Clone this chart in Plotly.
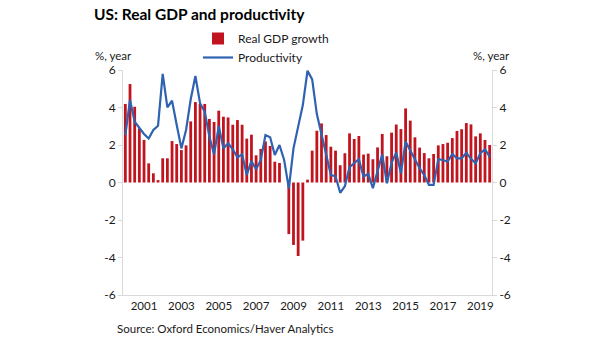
import plotly.graph_objects as go

quarters = [f"{y}Q{q}" for y in range(2000, 2020) for q in range(1, 5)][:79]

gdp_growth = [4.19, 5.25, 4.04, 2.89, 2.27, 1.02, 0.49, 0.13, 1.29, 1.29,
              2.21, 2.05, 1.73, 1.98, 3.26, 4.29, 4.19, 4.19, 3.39, 3.23,
              3.83, 3.51, 3.47, 3.08, 3.33, 3.08, 2.34, 2.55, 1.45, 1.79,
              2.19, 1.95, 1.11, 1.04, 0.0, -2.75, -3.33, -3.92, -3.10, 0.15,
              1.70, 2.76, 3.15, 2.53, 1.91, 1.70, 0.92, 1.56, 2.62, 2.32,
              2.48, 1.49, 1.54, 1.24, 1.87, 2.59, 1.40, 2.66, 3.09, 2.85,
              3.95, 3.30, 2.41, 1.86, 1.57, 1.29, 1.52, 1.98, 2.05, 2.12,
              2.37, 2.75, 2.84, 3.17, 3.10, 2.46, 2.62, 2.27, 2.00]

productivity = [2.53, 4.40, 3.24, 2.89, 2.59, 2.35, 2.80, 3.03, 5.79, 4.01,
                4.36, 3.07, 1.82, 2.80, 4.44, 5.68, 4.22, 3.78, 2.44, 1.50,
                3.01, 1.82, 2.09, 1.77, 1.34, 1.50, 0.40, 1.15, 0.70, 1.20,
                2.53, 2.41, 1.47, 2.00, 1.20, -0.31, 1.82, 2.98, 4.13, 5.96,
                5.50, 3.65, 2.50, 1.50, 0.40, 0.33, -0.55, -0.20, 0.82, 1.02,
                1.24, 0.31, 0.47, -0.30, 0.55, 1.50, -0.04, 1.05, 1.60, 0.49,
                2.18, 1.73, 1.20, 0.76, 0.40, -0.13, -0.13, 1.24, 1.20, 1.11,
                1.52, 1.29, 1.29, 1.59, 1.26, 1.02, 1.56, 1.77, 1.38]

year_ticks = [f"{y}Q1" for y in range(2001, 2020, 2)]
year_labels = [str(y) for y in range(2001, 2020, 2)]
y_ticks = [-6, -4, -2, 0, 2, 4, 6]
y_labels = ["-6", "-4", "-2", "0", "2", "4", "6"]

# plot area in pixels
W, H = 605, 341
L, R, T, B = 123, 492, 70, 295
def px(x):
    return (x - L) / (R - L)
def py(y):
    return (B - y) / (B - T)

FONT = "Lato"
RED = "#C0141E"
BLUE = "#2F62B0"

fig = go.Figure()
fig.add_trace(go.Bar(x=quarters, y=gdp_growth, name="Real GDP growth",
                     marker=dict(color=RED, line=dict(width=0)), yaxis="y"))
fig.add_trace(go.Scatter(x=quarters, y=productivity, name="Productivity",
                         mode="lines", line=dict(color=BLUE, width=2.2), yaxis="y"))
# invisible trace to activate right axis
fig.add_trace(go.Scatter(x=[quarters[0]], y=[0], yaxis="y2", mode="markers",
                         marker=dict(opacity=0), showlegend=False, hoverinfo="skip"))

axis_common = dict(range=[-6, 6], tickvals=y_ticks, ticktext=y_labels,
                   showgrid=False, zeroline=False,
                   showline=True, linecolor="#D9D9D9", linewidth=1,
                   ticks="outside", ticklen=4, tickcolor="#D9D9D9",
                   tickfont=dict(family=FONT, size=12, color="#1a1a1a"))

fig.update_layout(
    width=W, height=H,
    margin=dict(l=L, r=W - R, t=T, b=H - B),
    paper_bgcolor="white", plot_bgcolor="white",
    bargap=0.4,
    showlegend=True,
    legend=dict(x=px(198), y=py(24), xanchor="left", yanchor="top",
                font=dict(family=FONT, size=12, color="#1a1a1a"),
                bgcolor="rgba(0,0,0,0)", tracegroupgap=0, itemwidth=30),
    xaxis=dict(type="category", categoryorder="array", categoryarray=quarters,
               range=[-0.5, len(quarters) - 0.5],
               tickvals=year_ticks, ticktext=year_labels, tickangle=0,
               showgrid=False, zeroline=False, showline=True,
               linecolor="#D9D9D9", ticks="",
               tickfont=dict(family=FONT, size=11.5, color="#1a1a1a")),
    yaxis=dict(side="left", **axis_common),
    yaxis2=dict(side="right", overlaying="y", **axis_common),
    annotations=[
        dict(text="<b>US: Real GDP and productivity</b>", x=px(92), y=py(14),
             xref="paper", yref="paper", xanchor="left", yanchor="middle",
             showarrow=False, font=dict(family=FONT, size=15.5, color="black")),
        dict(text="%, year", x=px(93), y=py(55), xref="paper", yref="paper",
             xanchor="left", yanchor="middle", showarrow=False,
             font=dict(family=FONT, size=11.5, color="#1a1a1a")),
        dict(text="%, year", x=px(512), y=py(55), xref="paper", yref="paper",
             xanchor="right", yanchor="middle", showarrow=False,
             font=dict(family=FONT, size=11.5, color="#1a1a1a")),
        dict(text="Source: Oxford Economics/Haver Analytics", x=px(115), y=py(328),
             xref="paper", yref="paper", xanchor="left", yanchor="middle",
             showarrow=False, font=dict(family=FONT, size=11.5, color="#1a1a1a")),
    ],
)

fig.write_html("out.html")
